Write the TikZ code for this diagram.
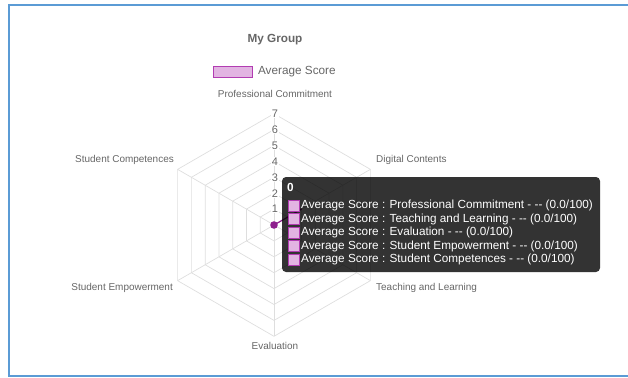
\documentclass[tikz,border=0pt]{standalone}
\usepackage{fontspec}
\setmainfont{Liberation Sans}
\usepackage{tikz}
\usetikzlibrary{positioning}
\definecolor{framecol}{HTML}{5B9BD5}
\definecolor{gridcol}{HTML}{DEDEDE}
\definecolor{labelcol}{HTML}{666666}
\definecolor{scorefill}{HTML}{E2B4E2}
\definecolor{scoreline}{HTML}{B23CB2}
\definecolor{dotcol}{HTML}{8E1F8E}
\tikzset{grid/.style = {draw=gridcol, line width=0.7bp},
         axislabel/.style = {text=labelcol, font=\fontsize{10}{12}\selectfont, inner sep=0pt},
         ticklabel/.style = {text=labelcol, font=\fontsize{11}{13}\selectfont, fill=white, inner sep=0.5bp},
         swatch/.style = {draw=scoreline, fill=scorefill, line width=0.8bp, minimum width=11bp,
                          minimum height=11bp, inner sep=0pt},
         tiptext/.style = {text=white, font=\fontsize{11.8}{13}\selectfont, inner sep=0pt, anchor=west}}

\begin{document}
\begin{tikzpicture}[x=1bp, y=1bp]
      \useasboundingbox (0, 0) rectangle (628, 377);
      \draw [framecol, line width=2bp] (9, 1) rectangle (660, 372);
      \node [text=labelcol, font=\bfseries\fontsize{11.8}{14}\selectfont] (title) at (275, 337) {My Group};
      \node [swatch, minimum width=39bp, minimum height=11bp] (legbox) at (233, 305.5) {};
      \node [text=labelcol, font=\fontsize{11.8}{14}\selectfont, inner sep=0pt, right=5bp of legbox] (legtext) {Average Score};
      % radar grid
      \begin{scope}[shift={(274, 152)}]
        \foreach \r in {1,...,7}
          \draw [grid] (90:\r*15.9) -- (30:\r*15.9) -- (-30:\r*15.9) -- (-90:\r*15.9)
                       -- (-150:\r*15.9) -- (150:\r*15.9) -- cycle;
        \foreach \a in {90, 30, -30, -90, -150, 150}
          \draw [grid] (0, 0) -- (\a:7*15.9);
        \foreach \r in {1,...,7}
          \node [ticklabel] (tick\r) at (1, \r*15.9) {\r};
        \coordinate (center) at (0, 0);
        \coordinate (dcscore) at (30:2*15.9);
      \end{scope}
      \node [axislabel] (pc) at (275, 283) {Professional Commitment};
      \node [axislabel, anchor=west] (dc) at (376, 217) {Digital Contents};
      \node [axislabel, anchor=west] (tl) at (376, 89) {Teaching and Learning};
      \node [axislabel] (ev) at (275, 31) {Evaluation};
      \node [axislabel, anchor=east] (se) at (173, 89) {Student Empowerment};
      \node [axislabel, anchor=east] (sc) at (174, 217) {Student Competences};
      % score
      \draw [dotcol, line width=1.2bp] (center) -- (dcscore);
      \fill [dotcol] (center) circle (3.8bp);
      % tooltip
      \fill [black, opacity=0.8, rounded corners=4bp] (282, 105) rectangle (600, 200);
      \node [tiptext, font=\bfseries\fontsize{11.8}{13}\selectfont] (tiptitle) at (287, 190) {0};
      \foreach \y/\name [count=\i] in {171.5/Professional Commitment, 158/Teaching and Learning,
                                       144.5/Evaluation, 131/Student Empowerment, 117.5/Student Competences} {
        \node [swatch] (box\i) at (293.5, \y) {};
        \node [tiptext] (item\i) at (301, \y) {Average Score : \name{} - -{}- (0.0/100)};
      }
\end{tikzpicture}
\end{document}
